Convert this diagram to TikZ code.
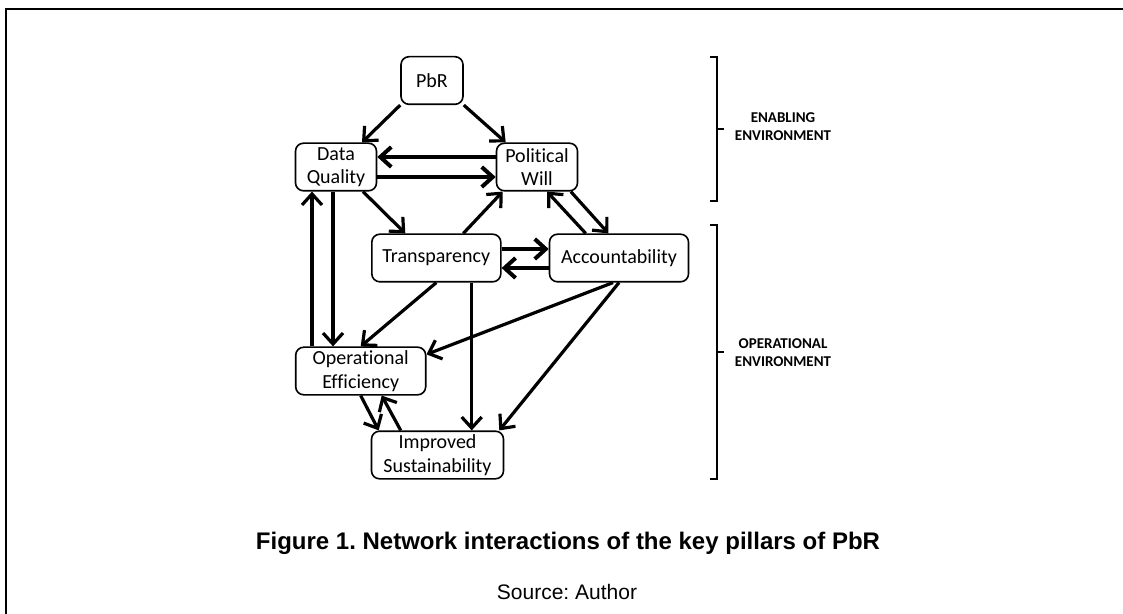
\documentclass[tikz,border=0pt]{standalone}
\usepackage{fontspec}
\setsansfont{Carlito}[Ligatures=NoCommon]
\newfontfamily\capfont{Liberation Sans}
\usetikzlibrary{arrows.meta}
\frenchspacing

\begin{document}
\begin{tikzpicture}[
  x=0.5pt, y=-0.5pt,
  font=\sffamily\fontsize{10}{11.8}\selectfont,
  pillar/.style={draw, line width=0.8pt, rounded corners=4pt, align=center, inner sep=1pt, minimum height=23.8pt},
  arr/.style={-{Straight Barb[length=5.5pt,width=10pt]}, line width=1.6pt},
  heavy/.style={arr, line width=2pt},
  brace/.style={line width=1pt},
  envlabel/.style={font=\sffamily\bfseries\fontsize{7.5}{9.2}\selectfont, align=center}
]
\useasboundingbox (0,0) rectangle (1123,614);
\draw[line width=1pt] (6,614) -- (6,9) -- (1123,9);

\node[pillar, minimum width=31pt] (pbr) at (432,80.5) {PbR};
\node[pillar, minimum width=40.5pt] (dq) at (336,167) {Data\\Quality};
\node[pillar, minimum width=40.5pt] (pw) at (537,167) {Political\\Will};
\node[pillar, minimum width=64.5pt] (tr) at (436.3,258) {Transparency};
\node[pillar, minimum width=69.5pt] (acc) at (619,258) {Accountability};
\node[pillar, minimum width=65pt] (oe) at (360.7,371) {Operational\\Efficiency};
\node[pillar, minimum width=66pt] (is) at (437.5,455) {Improved\\Sustainability};

\draw[arr] (pbr.south west) -- ([xshift=13pt]dq.north);
\draw[arr] (pbr.south east) -- ([xshift=5pt]pw.north west);
\draw[heavy] ([yshift=5pt]pw.west) -- ([yshift=5pt]dq.east);
\draw[heavy] ([yshift=-5pt]dq.east) -- ([yshift=-5pt]pw.west);
\draw[arr] ([xshift=13.5pt]dq.south) -- ([xshift=-15.5pt]tr.north);
\draw[arr] ([xshift=13.5pt]tr.north) -- ([xshift=3.5pt]pw.south west);
\draw[arr] ([xshift=18.5pt]acc.north west) -- ([xshift=5pt]pw.south);
\draw[arr] ([xshift=-3.75pt]pw.south east) -- ([xshift=-5.3pt]acc.north);
\draw[heavy] ([yshift=4.5pt]tr.east) -- ([yshift=4.5pt]acc.west);
\draw[heavy] ([yshift=-5pt]acc.west) -- ([yshift=-5pt]tr.east);
\draw[arr] ([xshift=-1.5pt]dq.south) -- ([xshift=-1.5pt]dq.south |- oe.north);
\draw[arr] ([xshift=-12pt]dq.south |- oe.north) -- ([xshift=-12pt]dq.south);
\draw[arr] (tr.south) -- (oe.north);
\draw[arr] ([xshift=-3pt]acc.south) -- ([yshift=-4pt]oe.north east);
\draw[arr] ([xshift=17.7pt]tr.south) -- ([xshift=17.7pt]tr.south |- is.north);
\draw[arr] (acc.south) -- ([xshift=-2.5pt]is.north east);
\draw[arr] (oe.south) -- ([xshift=4pt]is.north west);
\draw[arr] ([xshift=15pt]is.north west) -- ([xshift=10.5pt]oe.south);

% brackets on the right
\draw[brace] (710,57) -- (717,57) -- (717,201) -- (710,201) (717,129) -- (724,129);
\draw[brace] (710,225) -- (717,225) -- (717,479) -- (710,479) (717,352) -- (724,352);
\node[envlabel] (enab) at (783,126.5) {ENABLING\\ENVIRONMENT};
\node[envlabel] (oper) at (783,352.5) {OPERATIONAL\\ENVIRONMENT};

\node[font=\capfont\bfseries\fontsize{12}{14}\selectfont] (cap) at (568,543) {Figure 1. Network interactions of the key pillars of PbR};
\node[font=\capfont\fontsize{10.5}{12}\selectfont] (src) at (567,592) {Source: Author};
\end{tikzpicture}
\end{document}
